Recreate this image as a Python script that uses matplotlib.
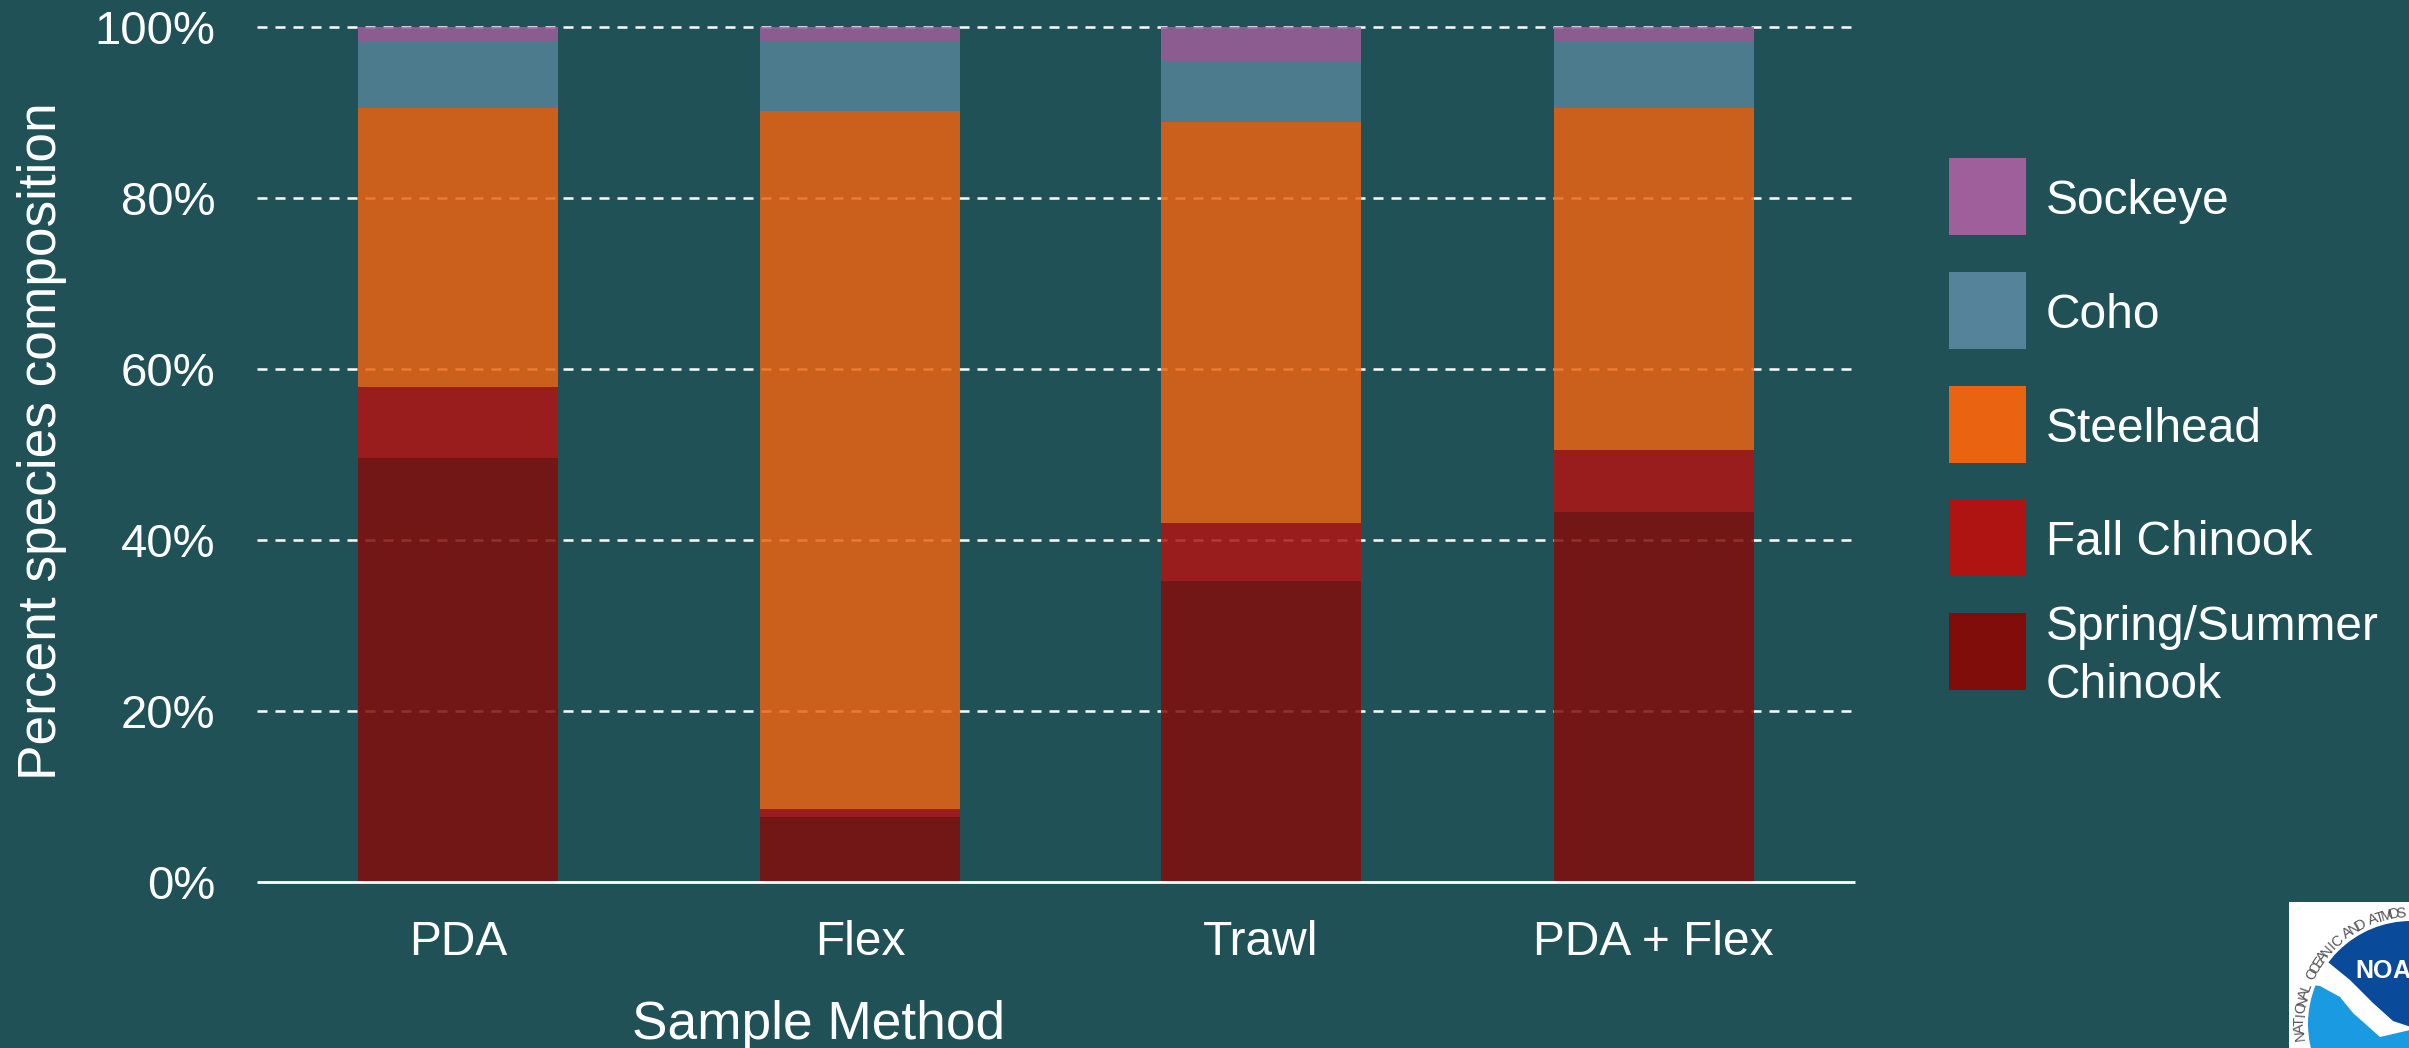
import numpy as np
import matplotlib
matplotlib.use("Agg")
import matplotlib.pyplot as plt
from matplotlib.patches import Rectangle, Circle, Polygon

# ---- data ----
methods = ["PDA", "Flex", "Trawl", "PDA + Flex"]
spring_summer = [49.6, 7.64, 35.2, 43.3]
fall = [8.25, 0.93, 6.75, 7.2]
steelhead = [32.65, 81.63, 46.9, 40.0]
coho = [7.8, 8.2, 7.15, 7.8]
sockeye = [1.7, 1.6, 4.0, 1.7]
series_names = ["Spring/Summer\nChinook", "Fall Chinook", "Steelhead", "Coho", "Sockeye"]
series_values = [spring_summer, fall, steelhead, coho, sockeye]
series_colors = ["#810D0A", "#AF1412", "#E96311", "#558399", "#9E5F9A"]
y_ticks = [0, 20, 40, 60, 80, 100]

# ---- layout / style ----
W, H = 2409, 1048
BG = "#1F5157"
placement_nudge = [0.0, 0.005, 0.0075, -0.011]   # the source columns are hand placed
plt.rcParams["font.family"] = ["Liberation Sans", "DejaVu Sans"]

fig = plt.figure(figsize=(W / 100, H / 100), dpi=100, facecolor=BG)
AX_R = 1854.5
ax = fig.add_axes([257 / W, 1 - 882 / H, (AX_R - 257) / W, (882 - 27) / H], facecolor=BG)

x = np.arange(len(methods)) + np.array(placement_nudge)
bottom = np.zeros(len(methods))
for vals, col in zip(series_values, series_colors):
    ax.bar(x, vals, width=0.5, bottom=bottom, color=col, alpha=0.85, linewidth=0, zorder=2)
    bottom += np.array(vals)

ax.set_xlim(-0.5025, (AX_R - 458) / 400)
ax.set_ylim(0, 100)
ax.set_axisbelow(True)
ax.set_yticks(y_ticks)
ax.set_yticklabels([f"{v}%" for v in y_ticks], fontsize=34, color="white")
ax.set_xticks(x)
ax.set_xticklabels(methods, fontsize=34.5, color="white")
ax.tick_params(axis="y", length=0, pad=30)
ax.tick_params(axis="x", length=0, pad=27.5)
ax.grid(axis="y", color="white", linewidth=1.8, linestyle=(0, (4.0, 3.2)))
for gl in ax.get_ygridlines():
    gl.set_clip_on(False)
ax.get_ygridlines()[0].set_visible(False)
for s in ["left", "right", "top"]:
    ax.spines[s].set_visible(False)
ax.spines["bottom"].set_color("white")
ax.spines["bottom"].set_linewidth(2.0)
ax.spines["bottom"].set_capstyle("butt")
ax.spines["bottom"].set_zorder(3)

ax.set_ylabel("Percent species composition", fontsize=38.3, color="white")
ax.yaxis.set_label_coords((67 - 257) / (AX_R - 257), (882 - 441.6) / 855)
ax.set_xlabel("Sample Method", fontsize=38.3, color="white")
ax.xaxis.set_label_coords((819 - 257) / (AX_R - 257), -(1025.5 - 882) / 855)
ax.xaxis.label.set_verticalalignment("center")

# overlay in pixel coordinates for the legend and logo
ov = fig.add_axes([0, 0, 1, 1], facecolor="none")
ov.set_xlim(0, W)
ov.set_ylim(H, 0)
ov.axis("off")

# legend (top row is the last series)
for i, k in enumerate(range(len(series_names) - 1, -1, -1)):
    top = 158 + 113.8 * i
    ov.add_patch(Rectangle((1949, top), 77, 77, facecolor=series_colors[k], linewidth=0))
    ov.text(2046, top + 43.5, series_names[k], fontsize=34.5, color="white", va="center", ha="left",
            linespacing=1.36)

# logo
ov.add_patch(Rectangle((2289, 902), W - 2289, H - 902, facecolor="white", linewidth=0))
cx, cy, R = 2411, 1024, 103
dark = Circle((cx, cy), R, facecolor="#0A4A9A", linewidth=0)
ov.add_patch(dark)
dark.set_clip_path(Polygon([(2310, 900), (2420, 900), (2420, 1030), (2393, 1021), (2373, 1003),
                            (2350, 980), (2323, 958)], transform=ov.transData))
light = Circle((cx, cy), R, facecolor="#1A9AE0", linewidth=0)
ov.add_patch(light)
light.set_clip_path(Polygon([(2300, 983), (2320, 986), (2340, 997), (2353, 1013), (2380, 1037),
                             (2410, 1030), (2420, 1030), (2420, 1060), (2300, 1060)], transform=ov.transData))
ring = "NATIONAL OCEANIC AND ATMOS"
for i, ch in enumerate(ring):
    ang = np.deg2rad(186 - i * 3.62)
    rr = R + 8
    ov.text(cx + rr * np.cos(ang), cy - rr * np.sin(ang), ch, fontsize=10.5, color="#555555",
            rotation=np.rad2deg(ang) - 90, ha="center", va="center", rotation_mode="anchor")
for i, ch in enumerate("NOA"):
    ov.text(2364 + i * 18.5, 978, ch, fontsize=18, color="white", ha="center", va="baseline", fontweight="bold")

fig.savefig("out.png", dpi=100, facecolor=BG)
